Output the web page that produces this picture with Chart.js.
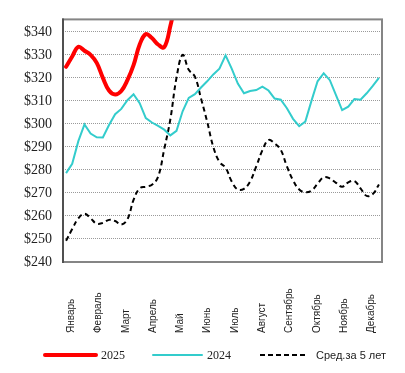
<!DOCTYPE html>
<html>
<head>
<meta charset="utf-8">
<script src="https://cdn.jsdelivr.net/npm/chart.js@4.4.1/dist/chart.umd.min.js"></script>
<style>
  html, body { margin: 0; padding: 0; background: #fff; }
  .wrap { position: relative; width: 405px; height: 373px; }
</style>
</head>
<body>
<div class="wrap"><canvas id="priceChart"></canvas></div>
<script>
// weekly categories (52 weeks)
const weeks = [1, 2, 3, 4, 5, 6, 7, 8, 9, 10, 11, 12, 13, 14, 15, 16, 17, 18, 19, 20,
  21, 22, 23, 24, 25, 26, 27, 28, 29, 30, 31, 32, 33, 34, 35, 36, 37, 38, 39, 40,
  41, 42, 43, 44, 45, 46, 47, 48, 49, 50, 51, 52];

const months = ['Январь', 'Февраль', 'Март', 'Апрель', 'Май', 'Июнь',
  'Июль', 'Август', 'Сентябрь', 'Октябрь', 'Ноябрь', 'Декабрь'];

const yTicks = [240, 250, 260, 270, 280, 290, 300, 310, 320, 330, 340];

const data2025 = [324.8, 329.3, 333.5, 331.8, 330, 326.5, 320, 314.5, 312.8, 314.3,
  319, 325.5, 334.5, 339, 337.3, 334.5, 333.3, 342.5, 355];

const data2024 = [278.6, 282.7, 292.5, 299.8, 295.8, 294.2, 294.1, 299.5, 304.2, 306.5,
  310.3, 312.9, 309, 302.5, 300.6, 299.1, 297.5, 295, 297, 305.5,
  311.3, 312.9, 315.8, 318.5, 321.5, 324, 329.8, 324, 317.5, 313.3,
  314.3, 314.7, 316.2, 314.5, 311, 310.5, 306.8, 302.2, 299, 301,
  310, 318.5, 322, 319, 312.5, 306, 307.5, 310.8, 310.5, 313.3,
  316.5, 320];

const avg5y = [249.2, 254.3, 259, 261, 259, 256.6, 257, 258.3, 257.8, 256.3,
  258.5, 267, 272, 272.7, 273.6, 277, 289, 302, 320, 330,
  323.5, 320.5, 311, 301, 290, 283.5, 281, 275, 271.5, 271.8,
  275, 281.5, 288.5, 293, 291.5, 288.7, 281.5, 275.5, 271.5, 270.3,
  271, 274, 276.8, 276.3, 274.4, 272.7, 274.6, 275.2, 272, 268.7,
  269.5, 273.7];

// month labels: rotated, text starts at the bottom
const monthLabels = {
  id: 'monthLabels',
  afterDraw(chart) {
    const ctx = chart.ctx;
    const x = chart.scales.x;
    ctx.save();
    ctx.font = '10px "Liberation Sans", Arial, sans-serif';
    ctx.fillStyle = '#222';
    ctx.textAlign = 'left';
    ctx.textBaseline = 'middle';
    months.forEach((m, i) => {
      const px = x.getPixelForValue(0.87 + i * 4.445);
      ctx.save();
      ctx.translate(px, 333);
      ctx.rotate(-Math.PI / 2);
      ctx.fillText(m, 0, 0);
      ctx.restore();
    });
    ctx.restore();
  }
};

// plot frame
const frame = {
  id: 'frame',
  afterDatasetsDraw(chart) {
    const { ctx, chartArea: a } = chart;
    ctx.save();
    ctx.lineWidth = 2;
    ctx.strokeStyle = '#858585';
    ctx.strokeRect(a.left, a.top, a.right - a.left, a.bottom - a.top);
    ctx.strokeStyle = '#505050';
    ctx.beginPath();
    ctx.moveTo(a.left, a.top - 1);
    ctx.lineTo(a.left, a.bottom + 1);
    ctx.stroke();
    ctx.restore();
  }
};

// legend drawn by hand (mixed fonts)
const legendItems = [
  { label: '2025', color: '#ff0000', width: 4, dash: [], x: 45, len: 51, font: '12px "Liberation Serif", "Times New Roman", serif' },
  { label: '2024', color: '#33cccc', width: 2, dash: [], x: 153, len: 49, font: '12px "Liberation Serif", "Times New Roman", serif' },
  { label: 'Сред.за 5 лет', color: '#000', width: 2, dash: [5, 3], x: 260, len: 46, font: '11px "Liberation Sans", Arial, sans-serif' }
];

const customLegend = {
  id: 'customLegend',
  afterDraw(chart) {
    const ctx = chart.ctx;
    const y = 355;
    ctx.save();
    legendItems.forEach((it) => {
      ctx.beginPath();
      ctx.lineWidth = it.width;
      ctx.strokeStyle = it.color;
      ctx.lineCap = it.dash.length ? 'butt' : 'round';
      ctx.setLineDash(it.dash);
      ctx.moveTo(it.x, y);
      ctx.lineTo(it.x + it.len, y);
      ctx.stroke();
      ctx.setLineDash([]);
      ctx.font = it.font;
      ctx.fillStyle = '#222';
      ctx.textBaseline = 'middle';
      ctx.fillText(it.label, it.x + it.len + (it.dash.length ? 10 : 5), y + 1);
    });
    ctx.restore();
  }
};

const ctx = document.getElementById('priceChart').getContext('2d');

new Chart(ctx, {
  type: 'line',
  data: {
    labels: weeks,
    datasets: [
      {
        label: 'Сред.за 5 лет',
        data: avg5y,
        borderColor: '#000000',
        borderWidth: 2,
        borderDash: [5, 3.5],
        tension: 0.4,
        pointRadius: 0,
        fill: false,
        order: 3
      },
      {
        label: '2024',
        data: data2024,
        borderColor: '#33cccc',
        borderWidth: 2,
        tension: 0,
        pointRadius: 0,
        fill: false,
        order: 2
      },
      {
        label: '2025',
        data: data2025,
        borderColor: '#ff0000',
        borderWidth: 4,
        borderCapStyle: 'round',
        tension: 0.4,
        pointRadius: 0,
        fill: false,
        order: 1
      }
    ]
  },
  options: {
    responsive: true,
    maintainAspectRatio: false,
    animation: false,
    layout: {
      padding: { top: 15, right: 23, bottom: 0, left: 0 }
    },
    scales: {
      x: {
        type: 'category',
        offset: true,
        grid: { display: false },
        border: { display: false },
        ticks: { display: false },
        afterFit(scale) { scale.height = 111; }
      },
      y: {
        min: 240,
        max: 345.4,
        afterBuildTicks(scale) {
          scale.ticks = yTicks.map((v) => ({ value: v }));
        },
        afterFit(scale) { scale.width = 63; },
        grid: {
          color: '#9a9a9a',
          lineWidth: 1,
          drawTicks: false
        },
        border: { display: false, dash: [1, 1] },
        ticks: {
          padding: 11,
          color: '#222',
          font: { family: '"Liberation Serif", "Times New Roman", serif', size: 14 },
          callback: (v) => '$' + v
        }
      }
    },
    plugins: {
      legend: { display: false },
      tooltip: { enabled: false }
    }
  },
  plugins: [frame, monthLabels, customLegend]
});
</script>
</body>
</html>
